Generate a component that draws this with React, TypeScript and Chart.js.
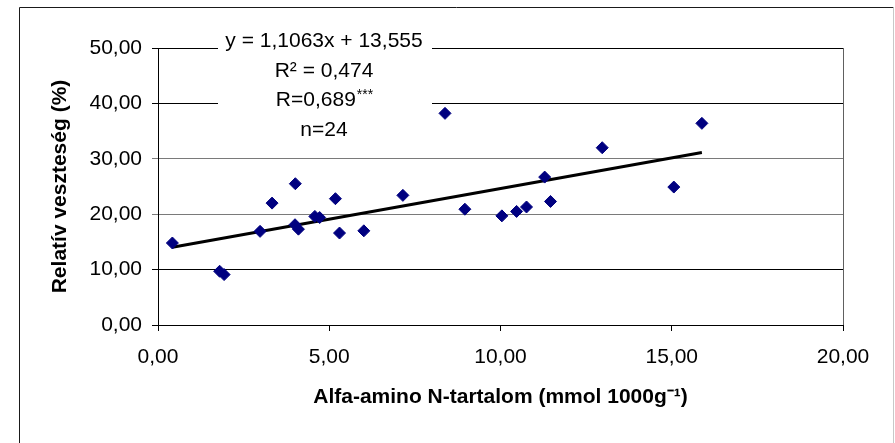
import React, { useEffect, useRef } from 'react';
import { Chart, registerables } from 'chart.js';

Chart.register(...registerables);

// ---- data ----
const xValues = [0.42, 1.8, 1.93, 2.98, 3.33, 4.01, 4.0, 4.1, 4.58, 4.72, 5.18, 5.3, 6.01, 7.15, 8.38, 8.96, 10.04, 10.47, 10.76, 11.29, 11.46, 12.97, 15.06, 15.88];
const yValues = [14.8, 9.7, 9.1, 16.9, 22.0, 25.5, 18.1, 17.3, 19.6, 19.4, 22.8, 16.6, 17.0, 23.4, 38.2, 20.9, 19.7, 20.5, 21.3, 26.7, 22.3, 32.0, 24.9, 36.4];
const slope = 1.1063;
const intercept = 13.555;
const annotationLines = ['y = 1,1063x + 13,555', 'R² = 0,474', 'R=0,689', 'n=24'];
const significance = '***';
const xTitle = 'Alfa-amino N-tartalom (mmol 1000g⁻¹)';
const yTitle = 'Relatív veszteség (%)';
const xMin = 0, xMax = 20, xStep = 5;
const yMin = 0, yMax = 50, yStep = 10;

const fmt = (v: number) => Number(v).toFixed(2).replace('.', ',');
const FONT = '"Liberation Sans", Arial, sans-serif';

const decorPlugin = {
  id: 'decor',
  beforeDatasetsDraw(chart: any) {
    const { ctx, chartArea } = chart;
    ctx.save();
    // plot area right border
    const rx = Math.round(chartArea.right) + 0.5;
    ctx.strokeStyle = '#606060';
    ctx.lineWidth = 1;
    ctx.beginPath();
    ctx.moveTo(rx, chartArea.top);
    ctx.lineTo(rx, chartArea.bottom);
    ctx.stroke();
    // annotation box (white, hides gridlines)
    ctx.fillStyle = '#ffffff';
    ctx.fillRect(218, 28, 214, 116);
    // annotation text
    ctx.fillStyle = '#000';
    ctx.textBaseline = 'middle';
    const cx = 324;
    const ys = [41.5, 71, 100.5, 130];
    annotationLines.forEach((t, i) => {
      if (i === 2) {
        ctx.font = `21px ${FONT}`;
        const w1 = ctx.measureText(t).width;
        ctx.font = `14px ${FONT}`;
        const w2 = ctx.measureText(significance).width;
        const x0 = cx - (w1 + w2) / 2;
        ctx.textAlign = 'left';
        ctx.font = `21px ${FONT}`;
        ctx.fillText(t, x0, ys[i]);
        ctx.font = `14px ${FONT}`;
        ctx.fillText(significance, x0 + w1 + 1, ys[i] - 5);
      } else {
        ctx.font = `21px ${FONT}`;
        ctx.textAlign = 'center';
        ctx.fillText(t, cx, ys[i]);
      }
    });
    ctx.restore();
  },
  afterDraw(chart: any) {
    const { ctx } = chart;
    ctx.save();
    ctx.lineWidth = 1;
    ctx.strokeStyle = '#1a1a1a';
    ctx.beginPath();
    ctx.moveTo(19.5, 460);
    ctx.lineTo(19.5, 7.5);
    ctx.lineTo(893.5, 7.5);
    ctx.stroke();
    ctx.strokeStyle = '#c8c8c8';
    ctx.beginPath();
    ctx.moveTo(893.5, 7.5);
    ctx.lineTo(893.5, 460);
    ctx.stroke();
    ctx.restore();
  },
};

const gridColors: Record<number, string> = { 0: '#000', 10: '#000', 20: '#7a7a7a', 30: '#7a7a7a', 40: '#000', 50: '#000' };

export default function App() {
  const ref = useRef<HTMLCanvasElement | null>(null);
  useEffect(() => {
    if (!ref.current) return;
    const points = xValues.map((x, i) => ({ x, y: yValues[i] }));
    const lo = Math.min(...xValues);
    const hi = Math.max(...xValues);
    const trend = [
      { x: lo, y: slope * lo + intercept },
      { x: hi, y: slope * hi + intercept },
    ];
    const chart = new Chart(ref.current, {
      type: 'scatter',
      data: {
        datasets: [
          {
            type: 'line',
            data: trend,
            borderColor: '#000',
            borderWidth: 3,
            pointRadius: 0,
            fill: false,
            order: 2,
          } as any,
          {
            data: points,
            pointStyle: 'rectRot',
            pointRadius: 6,
            backgroundColor: '#000080',
            borderColor: '#000080',
            borderWidth: 1,
            order: 1,
          },
        ],
      },
      plugins: [decorPlugin],
      options: {
        animation: false,
        responsive: true,
        maintainAspectRatio: false,
        devicePixelRatio: 1,
        events: [],
        layout: { padding: { top: 48, right: 52, left: 0, bottom: 0 } },
        plugins: { legend: { display: false }, tooltip: { enabled: false } },
        scales: {
          x: {
            type: 'linear',
            min: xMin,
            max: xMax,
            afterFit: (s: any) => { s.height = 118; },
            ticks: { stepSize: xStep, callback: (v: any) => fmt(v), color: '#000', font: { family: FONT, size: 21 }, padding: 14, maxRotation: 0 },
            grid: { drawOnChartArea: false, drawTicks: true, tickLength: 6, color: '#000' },
            border: { color: '#000', width: 1 },
            title: { display: true, text: xTitle, color: '#000', font: { family: FONT, size: 21, weight: 'bold' }, padding: { top: 0, bottom: 33 } },
          },
          y: {
            type: 'linear',
            min: yMin,
            max: yMax,
            afterFit: (s: any) => { s.width = 158; },
            ticks: { stepSize: yStep, callback: (v: any) => fmt(v), color: '#000', font: { family: FONT, size: 21 }, padding: 10 },
            grid: { drawTicks: true, tickLength: 6, color: (c: any) => gridColors[c.tick?.value] ?? '#000' },
            border: { color: '#000', width: 1 },
            title: { display: true, text: yTitle, color: '#000', font: { family: FONT, size: 21, weight: 'bold' }, padding: { top: 48, bottom: 0 } },
          },
        },
      } as any,
    });
    return () => chart.destroy();
  }, []);
  return (
    <div style={{ position: 'absolute', left: 0, top: 0, width: 895, height: 443, background: '#fff' }}>
      <canvas ref={ref} />
    </div>
  );
}
